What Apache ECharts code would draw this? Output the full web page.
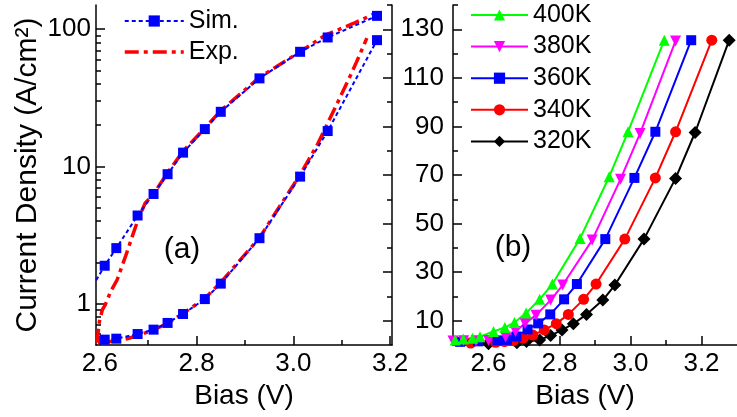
<!DOCTYPE html>
<html><head><meta charset="utf-8">
<script src="https://cdn.jsdelivr.net/npm/echarts@6/dist/echarts.min.js"></script>
<style>html,body{margin:0;padding:0;background:#fff}#c{width:737px;height:417px}</style>
</head><body><div id="c"></div>
<script>
// ---------- Panel (a) data ----------
const simUpX = [2.585, 2.61, 2.634, 2.678, 2.711, 2.74, 2.772, 2.817, 2.85, 2.93, 3.014, 3.071, 3.173];
const simUpY = [1.34, 1.89, 2.54, 4.39, 6.3, 8.78, 12.6, 18.7, 25.0, 43.8, 68.4, 87, 125];
const simLowX = [2.61, 2.634, 2.678, 2.711, 2.74, 2.772, 2.817, 2.85, 2.93, 3.014, 3.071, 3.173];
const simLowY = [0.547, 0.556, 0.601, 0.647, 0.724, 0.841, 1.08, 1.40, 3.0, 8.43, 18.1, 83.2];
const expUpX = [2.594, 2.599, 2.605, 2.611, 2.622, 2.636, 2.653, 2.667, 2.680, 2.694, 2.711, 2.74, 2.772, 2.817, 2.85, 2.93, 3.014, 3.066, 3.124, 3.165];
const expUpY = [0.52, 0.74, 0.90, 0.98, 1.22, 1.50, 2.21, 3.09, 4.2, 5.43, 6.3, 9.0, 12.9, 19.0, 25.5, 44.5, 68.5, 90.4, 110, 128];
const expLowX = [2.596, 2.62, 2.64, 2.66, 2.68, 2.71, 2.74, 2.772, 2.817, 2.85, 2.93, 3.014, 3.05, 3.072, 3.097, 3.118, 3.131, 3.152];
const expLowY = [0.52, 0.53, 0.54, 0.56, 0.59, 0.64, 0.72, 0.85, 1.09, 1.43, 3.02, 8.7, 14.5, 21, 32, 46, 58, 86];

// ---------- Panel (b) data ----------
const tempNames = ['400K', '380K', '360K', '340K', '320K'];
const t400X = [2.506, 2.529, 2.555, 2.576, 2.614, 2.646, 2.673, 2.706, 2.744, 2.780, 2.858, 2.940, 2.993, 3.095];
const t400Y = [2.1, 2.5, 2.8, 3.4, 5.6, 7.2, 9.3, 13.2, 18.8, 25.1, 43.9, 69.3, 87.8, 125.5];
const t380X = [2.50, 2.53, 2.565, 2.600, 2.648, 2.676, 2.703, 2.734, 2.775, 2.809, 2.892, 2.972, 3.027, 3.127];
const t380Y = [1.6, 1.7, 1.8, 1.9, 3.3, 5.6, 8.9, 12.3, 18.5, 24.7, 43.2, 68.3, 87.1, 125.2];
const t360X = [2.52, 2.57, 2.625, 2.652, 2.679, 2.710, 2.740, 2.774, 2.813, 2.849, 2.929, 3.011, 3.070, 3.171];
const t360Y = [1.3, 1.5, 1.9, 2.1, 3.5, 6.4, 8.9, 12.6, 18.8, 25.1, 43.6, 68.8, 87.8, 125.5];
const t340X = [2.55, 2.62, 2.645, 2.670, 2.698, 2.725, 2.757, 2.791, 2.825, 2.868, 2.903, 2.984, 3.070, 3.127, 3.229];
const t340Y = [0.8, 1.1, 1.4, 1.8, 2.8, 4.1, 6.2, 8.8, 12.6, 18.8, 25.1, 43.6, 68.8, 87.8, 125.5];
const t320X = [2.60, 2.68, 2.707, 2.744, 2.775, 2.807, 2.839, 2.876, 2.922, 2.956, 3.038, 3.127, 3.182, 3.278];
const t320Y = [0.5, 0.9, 1.4, 2.1, 3.9, 6.2, 8.7, 12.6, 18.5, 24.7, 43.6, 68.6, 87.5, 125.5];

// ---------- Tick labels ----------
const xTicksA = [2.6, 2.8, 3.0, 3.2];
const xMinorA = [2.7, 2.9, 3.1];
const xTicksB = [2.6, 2.8, 3.0, 3.2];
const xMinorB = [2.7, 2.9, 3.1];
const yTicksA = [1, 10, 100];
const yMinorA = [0.6, 0.7, 0.8, 0.9, 2, 3, 4, 5, 6, 7, 8, 9, 20, 30, 40, 50, 60, 70, 80, 90];
const yTicksB = [10, 30, 50, 70, 90, 110, 130];
const yMinorB = [20, 40, 60, 80, 100, 120, 140];

const FONT = 'Liberation Sans, Arial, sans-serif';
const BLACK = '#000';
const zip = (xs, ys) => xs.map((x, i) => [x, ys[i]]);

function majorX(grid, min, max, ticks, name, namePad) {
  return {
    gridIndex: grid, type: 'value', min: min, max: max, position: 'bottom',
    axisLine: { onZero: false, lineStyle: { color: BLACK, width: 1.5 } },
    axisTick: { inside: true, length: 9, customValues: ticks, lineStyle: { color: BLACK, width: 1.5 } },
    axisLabel: { customValues: ticks, formatter: v => v.toFixed(1), fontSize: 26, fontFamily: FONT, color: BLACK, margin: 6 },
    splitLine: { show: false },
    name: name, nameLocation: 'middle', nameGap: 37,
    nameTextStyle: { fontSize: 28, fontFamily: FONT, color: BLACK, padding: namePad }
  };
}
function minorAxis(grid, type, min, max, ticks, pos, len) {
  return {
    gridIndex: grid, type: type, min: min, max: max, position: pos,
    axisLine: { show: false, onZero: false },
    axisTick: { show: true, inside: true, length: len, customValues: ticks, lineStyle: { color: BLACK, width: 1.5 } },
    axisLabel: { show: false }, splitLine: { show: false }
  };
}

const tempColors = ['#00ff00', '#ff00ff', '#0000ff', '#ff0000', '#000000'];
const tempSymbols = ['triangle', 'path://M0,0 L10,0 L5,10 Z', 'rect', 'circle', 'diamond'];
const tempSizes = [11, 11, 10, 11, 13];
const tempData = [zip(t400X, t400Y), zip(t380X, t380Y), zip(t360X, t360Y), zip(t340X, t340Y), zip(t320X, t320Y)];

const seriesB = [];
for (let i = tempNames.length - 1; i >= 0; i--) {
  seriesB.push({
    name: tempNames[i], type: 'line', xAxisIndex: 2, yAxisIndex: 4,
    data: tempData[i], symbol: tempSymbols[i], symbolSize: tempSizes[i], showAllSymbol: true,
    itemStyle: { color: tempColors[i] }, lineStyle: { color: tempColors[i], width: 2 },
    clip: true
  });
}

const option = {
  animation: false,
  backgroundColor: '#fff',
  textStyle: { fontFamily: FONT },
  grid: [
    { left: 96, top: 5, width: 296, height: 340 },
    { left: 453, top: 5, width: 292, height: 340 }
  ],
  legend: [
    {
      data: ['Sim.', { name: 'Exp.', itemStyle: { opacity: 0 }, lineStyle: { width: 3.5 } }], orient: 'vertical', left: 118, top: 3,
      itemWidth: 59, itemHeight: 14, itemGap: 5, selectedMode: false,
      textStyle: { fontSize: 25, lineHeight: 26, fontFamily: FONT, color: BLACK }
    },
    {
      data: tempNames, orient: 'vertical', left: 465, top: -3,
      itemWidth: 57, itemHeight: 14, itemGap: 5.6, selectedMode: false,
      textStyle: { fontSize: 25, lineHeight: 26, fontFamily: FONT, color: BLACK }
    }
  ],
  xAxis: [
    majorX(0, 2.592, 3.204, xTicksA, 'Bias (V)', [0, 0, 0, 0]),
    minorAxis(0, 'value', 2.592, 3.204, xMinorA, 'bottom', 5),
    majorX(1, 2.5, 3.3, xTicksB, 'Bias (V)', [0, 20, 0, 0]),
    minorAxis(1, 'value', 2.5, 3.3, xMinorB, 'bottom', 5)
  ],
  yAxis: [
    {
      gridIndex: 0, type: 'log', min: 0.5, max: 150, position: 'left',
      axisLine: { onZero: false, lineStyle: { color: BLACK, width: 1.5 } },
      axisTick: { inside: true, length: 9, customValues: yTicksA, lineStyle: { color: BLACK, width: 1.5 } },
      axisLabel: { customValues: yTicksA, fontSize: 26, fontFamily: FONT, color: BLACK, margin: 5 },
      splitLine: { show: false }, minorTick: { show: false },
      name: 'Current Density (A/cm²)', nameLocation: 'middle', nameRotate: 90, nameGap: 53,
      nameTextStyle: { fontSize: 30, fontFamily: FONT, color: BLACK }
    },
    minorAxis(0, 'log', 0.5, 150, yMinorA, 'left', 5),
    {
      gridIndex: 0, type: 'value', min: 0, max: 140, position: 'right',
      axisLine: { onZero: false, lineStyle: { color: BLACK, width: 1.5 } },
      axisTick: { inside: true, length: 9, customValues: yTicksB, lineStyle: { color: BLACK, width: 1.5 } },
      axisLabel: { show: false }, splitLine: { show: false }
    },
    minorAxis(0, 'value', 0, 140, yMinorB, 'right', 5),
    {
      gridIndex: 1, type: 'value', min: 0, max: 140, position: 'left',
      axisLine: { onZero: false, lineStyle: { color: BLACK, width: 1.5 } },
      axisTick: { inside: true, length: 9, customValues: yTicksB, lineStyle: { color: BLACK, width: 1.5 } },
      axisLabel: { customValues: yTicksB, fontSize: 26, fontFamily: FONT, color: BLACK, margin: 9 },
      splitLine: { show: false }
    },
    minorAxis(1, 'value', 0, 140, yMinorB, 'left', 5)
  ],
  graphic: [
    { type: 'text', x: 182, y: 250, style: { text: '(a)', fontSize: 30, fontFamily: FONT, fill: BLACK, align: 'center', verticalAlign: 'middle' } },
    { type: 'text', x: 513, y: 248, style: { text: '(b)', fontSize: 30, fontFamily: FONT, fill: BLACK, align: 'center', verticalAlign: 'middle' } }
  ],
  series: [
    { name: 'Exp.', type: 'line', xAxisIndex: 0, yAxisIndex: 0, data: zip(expUpX, expUpY), symbol: 'none',
      lineStyle: { color: '#ff0000', width: 3.5, type: [14, 5, 4, 5] }, itemStyle: { color: '#ff0000' }, clip: true },
    { name: 'Exp.', type: 'line', xAxisIndex: 0, yAxisIndex: 0, data: zip(expLowX, expLowY), symbol: 'none',
      lineStyle: { color: '#ff0000', width: 3.5, type: [14, 5, 4, 5] }, itemStyle: { color: '#ff0000' }, clip: true },
    { name: 'Sim.', type: 'line', xAxisIndex: 0, yAxisIndex: 0, data: zip(simUpX, simUpY), symbol: 'rect', symbolSize: 10,
      showAllSymbol: true, lineStyle: { color: '#0000ff', width: 2, type: [4, 3] }, itemStyle: { color: '#0000ff' }, clip: true },
    { name: 'Sim.', type: 'line', xAxisIndex: 0, yAxisIndex: 0, data: zip(simLowX, simLowY), symbol: 'rect', symbolSize: 10,
      showAllSymbol: true, lineStyle: { color: '#0000ff', width: 2, type: [4, 3] }, itemStyle: { color: '#0000ff' }, clip: true }
  ].concat(seriesB)
};

const chart = echarts.init(document.getElementById('c'), null, { renderer: 'canvas' });
chart.setOption(option);
</script>
</body></html>
